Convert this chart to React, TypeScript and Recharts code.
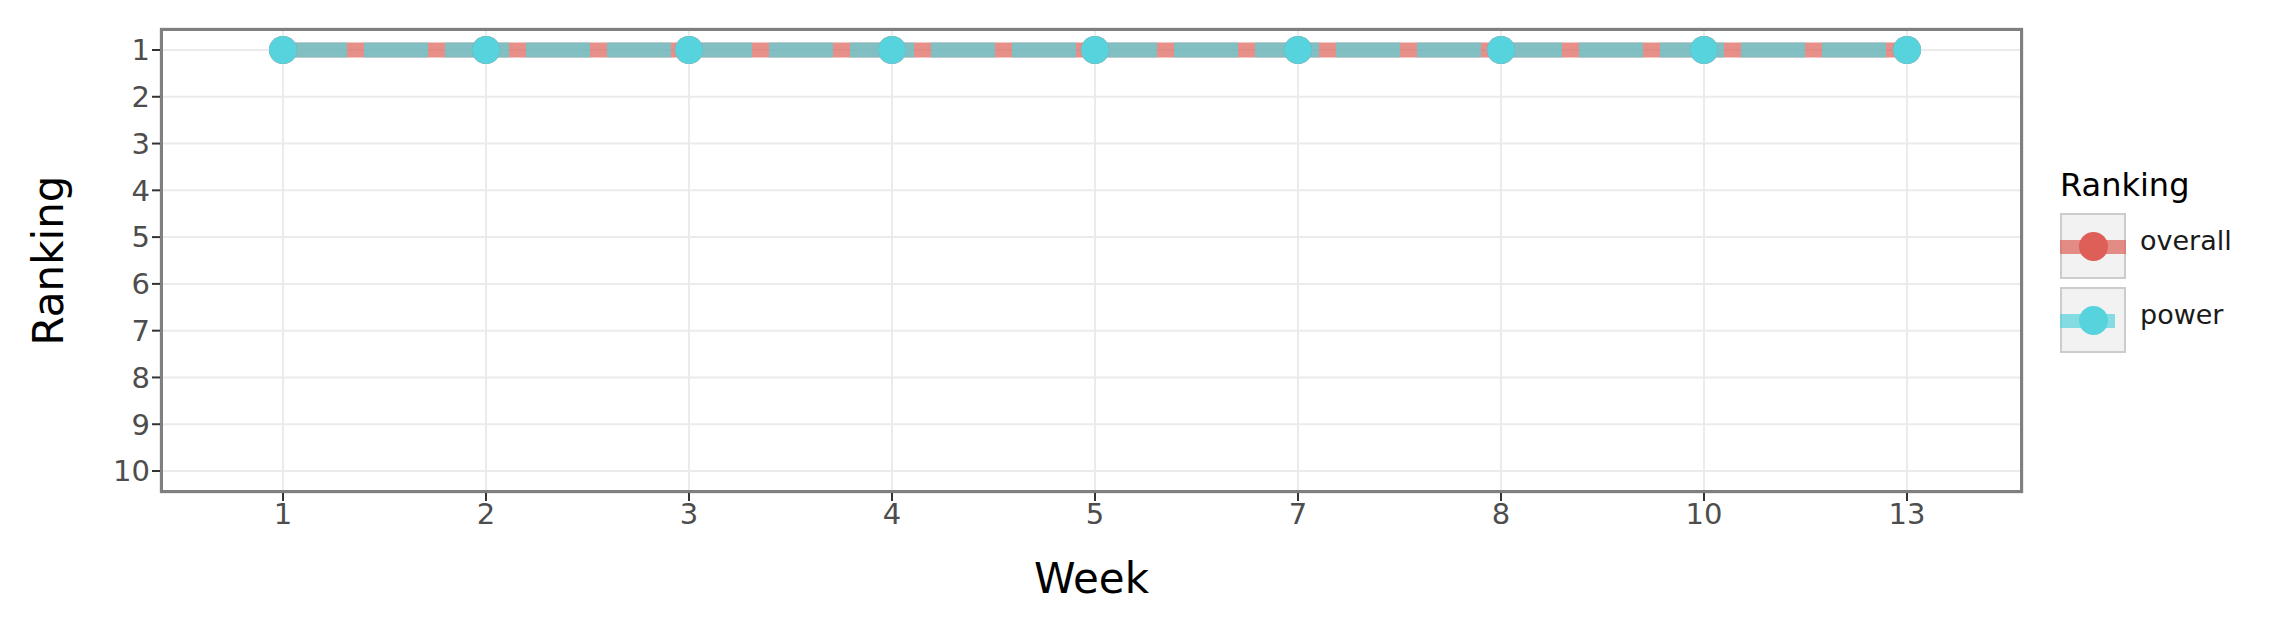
import React from 'react';
import { LineChart, Line, XAxis, YAxis, CartesianGrid, Legend } from 'recharts';

const weeks = ['1', '2', '3', '4', '5', '7', '8', '10', '13'];
const overall = [1, 1, 1, 1, 1, 1, 1, 1, 1];
const power = [1, 1, 1, 1, 1, 1, 1, 1, 1];
const yTicks = [1, 2, 3, 4, 5, 6, 7, 8, 9, 10];

const RED = '#dd5f57';
const CYAN = '#56d3dc';
const FONT = 'DejaVu Sans';

const data = weeks.map((w, i) => ({ week: w, overall: overall[i], power: power[i] }));

function LegendBox() {
  const key = (color: string, label: string, short: boolean, top: number) => (
    <div style={{ position: 'absolute', left: 0, top, width: 300, height: 66 }}>
      <div style={{ position: 'absolute', left: 0, top: 0, width: 62, height: 62, background: '#f2f2f2', border: '2px solid #cccccc' }} />
      <div style={{ position: 'absolute', left: 0, top: 27, width: short ? 55 : 66, height: 14, background: color, opacity: 0.7 }} />
      <div style={{ position: 'absolute', left: 19, top: 19, width: 29, height: 29, borderRadius: 15, background: color }} />
      <div style={{ position: 'absolute', left: 80, top: 12, fontSize: 27, fontFamily: FONT, color: '#1a1a1a' }}>{label}</div>
    </div>
  );
  return (
    <div style={{ position: 'absolute', left: 2060, top: 166, width: 216, height: 200 }}>
      <div style={{ position: 'absolute', left: 0, top: 0, fontSize: 32, fontFamily: FONT }}>Ranking</div>
      {key(RED, 'overall', false, 47)}
      {key(CYAN, 'power', true, 121)}
    </div>
  );
}

export default function App() {
  return (
    <div style={{ position: 'absolute', left: 0, top: 0, width: 2276, height: 641, background: '#fff' }}>
      <LineChart width={2276} height={641} data={data} margin={{ top: 28, right: 253, left: 90, bottom: 48 }}>
        <CartesianGrid stroke="#ebebeb" strokeWidth={2} />
        <XAxis
          dataKey="week"
          padding={{ left: 123, right: 116 }}
          tick={{ fontSize: 29, fill: '#4d4d4d', fontFamily: FONT }}
          tickLine={{ stroke: '#333', strokeWidth: 2 }}
          tickSize={8}
          axisLine={false}
          height={100}
          label={{ value: 'Week', position: 'insideBottom', offset: 0, fontSize: 42, fill: '#000', fontFamily: FONT }}
        />
        <YAxis
          type="number"
          domain={[0.53, 10.47]}
          reversed
          ticks={yTicks}
          interval={0}
          allowDataOverflow
          tick={{ fontSize: 29, fill: '#4d4d4d', fontFamily: FONT }}
          tickLine={{ stroke: '#333', strokeWidth: 2 }}
          tickSize={8}
          axisLine={false}
          width={70}
          label={{ value: 'Ranking', angle: -90, position: 'insideLeft', offset: -42, fontSize: 42, fill: '#000', fontFamily: FONT, style: { textAnchor: 'middle' } }}
        />
        <Line dataKey="overall" stroke={RED} strokeOpacity={0.7} strokeWidth={15} dot={{ r: 14, fill: RED, stroke: 'none' }} isAnimationActive={false} />
        <Line dataKey="power" stroke={CYAN} strokeOpacity={0.7} strokeWidth={15} strokeDasharray="64 17" dot={{ r: 14, fill: CYAN, stroke: 'none' }} isAnimationActive={false} />
        <Legend content={() => null} />
      </LineChart>
      <div style={{ position: 'absolute', left: 160, top: 28, width: 1863, height: 465, border: '3px solid #7f7f7f', boxSizing: 'border-box', pointerEvents: 'none' }} />
      <LegendBox />
    </div>
  );
}
